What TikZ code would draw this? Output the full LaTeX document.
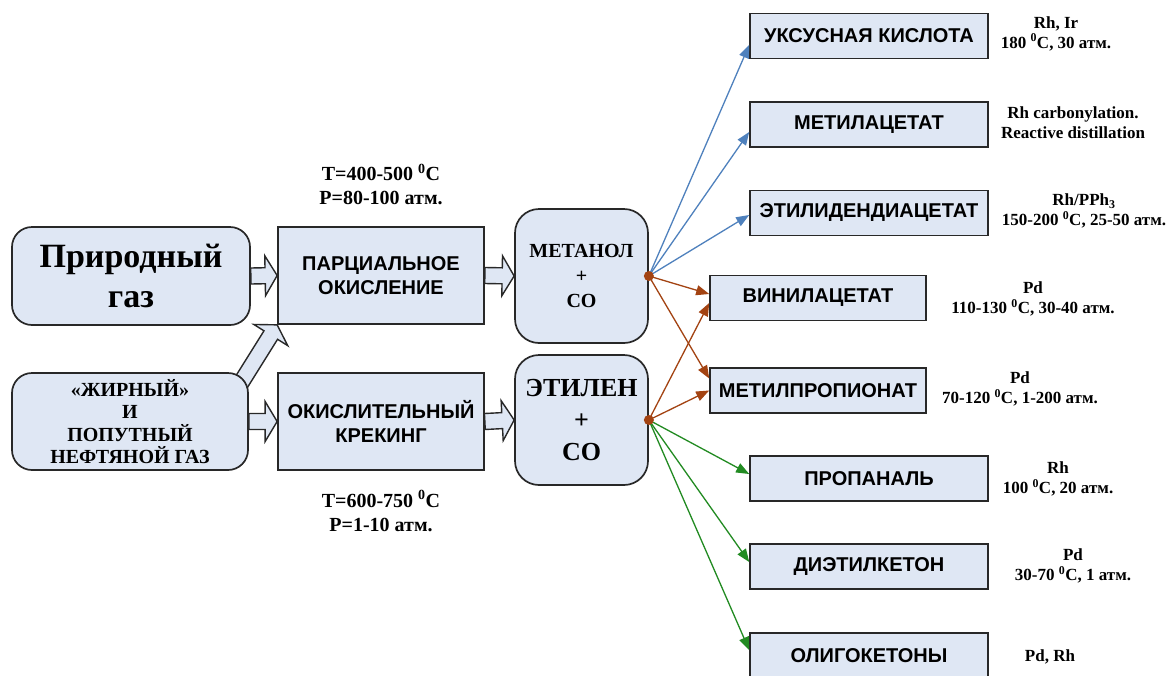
\documentclass[tikz,border=0pt]{standalone}
\usepackage{fontspec}
\setmainfont{Liberation Serif}
\setsansfont{Liberation Sans}
\usetikzlibrary{arrows.meta,calc}
\pgfdeclarelayer{background}
\pgfsetlayers{background,main}
\definecolor{boxfill}{RGB}{223,231,244}
\definecolor{boxline}{RGB}{40,40,40}
\definecolor{arrblue}{RGB}{79,129,189}
\definecolor{arrbrown}{RGB}{163,67,18}
\definecolor{arrgreen}{RGB}{34,139,34}
\newcommand\blockarrow[2]{%
  \draw[barrow] let \p1=(#1), \p2=(#2),
     \n1={atan2(\y2-\y1,\x2-\x1)}, \n2={veclen(\x2-\x1,\y2-\y1)-12} in
     ($(\p1)+(\n1+90:8)$) -- ($(\p1)+(\n1:\n2)+(\n1+90:8)$)
     -- ($(\p1)+(\n1:\n2)+(\n1+90:20)$) -- (\p2)
     -- ($(\p1)+(\n1:\n2)+(\n1-90:20)$) -- ($(\p1)+(\n1:\n2)+(\n1-90:8)$)
     -- ($(\p1)+(\n1-90:8)$) -- cycle;}
\tikzset{
  x=1pt, y=1pt,
  basebox/.style={draw=boxline, fill=boxfill, line width=1.7pt, inner sep=0pt, align=center, text=black},
  srcbox/.style={basebox, rounded corners=20pt},
  procbox/.style={basebox, minimum width=206, minimum height=97,
     font=\sffamily\bfseries\fontsize{20}{24}\selectfont},
  interbox/.style={basebox, rounded corners=24pt, minimum width=133},
  prod/.style={basebox, line width=1.6pt, minimum width=238, minimum height=45,
     font=\sffamily\bfseries\fontsize{20}{23}\selectfont},
  cond/.style={font=\bfseries\fontsize{17}{20}\selectfont, align=center, inner sep=0pt},
  tcond/.style={font=\bfseries\fontsize{20}{24}\selectfont, align=center, inner sep=0pt},
  barrow/.style={draw=boxline, fill=boxfill, line width=1.4pt, line join=miter},
  thinarr/.style={draw=#1, color=#1, line width=1.3pt, -{Triangle[length=13pt,width=10pt]}},
  dot/.style={circle, fill=arrbrown, inner sep=0pt, minimum size=10pt}
}
\newcommand\supzero{\textsuperscript{0}}
\begin{document}
\begin{tikzpicture}
\useasboundingbox (0,0) rectangle (1173,-675);

% sources
\node[srcbox, minimum width=238, minimum height=98,
      font=\bfseries\fontsize{34}{40}\selectfont] (nat) at (131,-276) {Природный\\газ};
\node[srcbox, minimum width=236, minimum height=97,
      font=\bfseries\fontsize{20}{22.5}\selectfont] (fat) at (130,-421.5)
      {«ЖИРНЫЙ»\\И\\ПОПУТНЫЙ\\НЕФТЯНОЙ ГАЗ};

% processes
\node[procbox] (part) at (381,-275.5) {ПАРЦИАЛЬНОЕ\\ОКИСЛЕНИЕ};
\node[procbox] (crack) at (381,-421.5) {ОКИСЛИТЕЛЬНЫЙ\\КРЕКИНГ};

\node[tcond] (tp1) at (381,-184.5) {T=400-500 \supzero C\\P=80-100 атм.};
\node[tcond] (tp2) at (381,-511) {T=600-750 \supzero C\\P=1-10 атм.};

% intermediates
\node[interbox, minimum height=134, font=\bfseries\fontsize{20}{25}\selectfont]
      (meth) at (581.5,-276) {МЕТАНОЛ\\+\\CO};
\node[interbox, minimum height=130, font=\bfseries\fontsize{26}{32}\selectfont]
      (eth) at (581.5,-420) {ЭТИЛЕН\\+\\CO};

% block arrows (behind the boxes)
\begin{pgfonlayer}{background}
\fill[white] (0,0) rectangle (1173,-675);
\blockarrow{nat.east}{part.west}
\blockarrow{fat.east}{crack.west}
\blockarrow{part.east}{meth.west}
\blockarrow{crack.east}{eth.west}
\coordinate (fattail) at ($(fat.north east)+(-10,-14)$);
\blockarrow{fattail}{part.south west}
\end{pgfonlayer}

% products
\node[prod] (acetic) at (869,-36) {УКСУСНАЯ КИСЛОТА};
\node[prod] (macet) at (869,-124.5) {МЕТИЛАЦЕТАТ};
\node[prod] (edac) at (869,-213) {ЭТИЛИДЕНДИАЦЕТАТ};
\node[prod, minimum width=216] (vinyl) at (818,-298) {ВИНИЛАЦЕТАТ};
\node[prod, minimum width=216] (mprop) at (818,-390.5) {МЕТИЛПРОПИОНАТ};
\node[prod] (propanal) at (869,-478.5) {ПРОПАНАЛЬ};
\node[prod] (dek) at (869,-566.5) {ДИЭТИЛКЕТОН};
\node[prod] (oligo) at (869,-655.5) {ОЛИГОКЕТОНЫ};

% conditions
\node[cond] (c1) at (1056,-33.5) {Rh, Ir\\180 \supzero C, 30 атм.};
\node[cond] (c2) at (1073,-122.5) {Rh carbonylation.\\Reactive distillation};
\node[cond] (c3) at (1084,-211) {Rh/PPh\textsubscript{3}\\150-200 \supzero C, 25-50 атм.};
\node[cond] (c4) at (1033,-299) {Pd\\110-130 \supzero C, 30-40 атм.};
\node[cond] (c5) at (1020,-389) {Pd\\70-120 \supzero C, 1-200 атм.};
\node[cond] (c6) at (1058,-479) {Rh\\100 \supzero C, 20 атм.};
\node[cond] (c7) at (1073,-566) {Pd\\30-70 \supzero C, 1 атм.};
\node[cond] (c8) at (1050,-657) {Pd, Rh};

% branch points
\coordinate (d1) at (meth.east);
\coordinate (d2) at (eth.east);

% thin arrows
\draw[thinarr=arrblue] (d1) -- ($(acetic.west)+(0,-9)$);
\draw[thinarr=arrblue] (d1) -- ($(macet.west)+(0,-7.5)$);
\draw[thinarr=arrblue] (d1) -- ($(edac.west)+(0,-2)$);
\draw[thinarr=arrbrown] (d1) -- ($(vinyl.west)+(0,4)$);
\draw[thinarr=arrbrown] (d1) -- ($(mprop.west)+(0,12)$);
\draw[thinarr=arrbrown] (d2) -- ($(vinyl.west)+(0,-5)$);
\draw[thinarr=arrbrown] (d2) -- (mprop.west);
\draw[thinarr=arrgreen] (d2) -- ($(propanal.west)+(0,4.5)$);
\draw[thinarr=arrgreen] (d2) -- ($(dek.west)+(0,4.5)$);
\draw[thinarr=arrgreen] (d2) -- ($(oligo.west)+(0,5.5)$);

\node[dot] (dot1) at (d1) {};
\node[dot] (dot2) at (d2) {};
\end{tikzpicture}
\end{document}
